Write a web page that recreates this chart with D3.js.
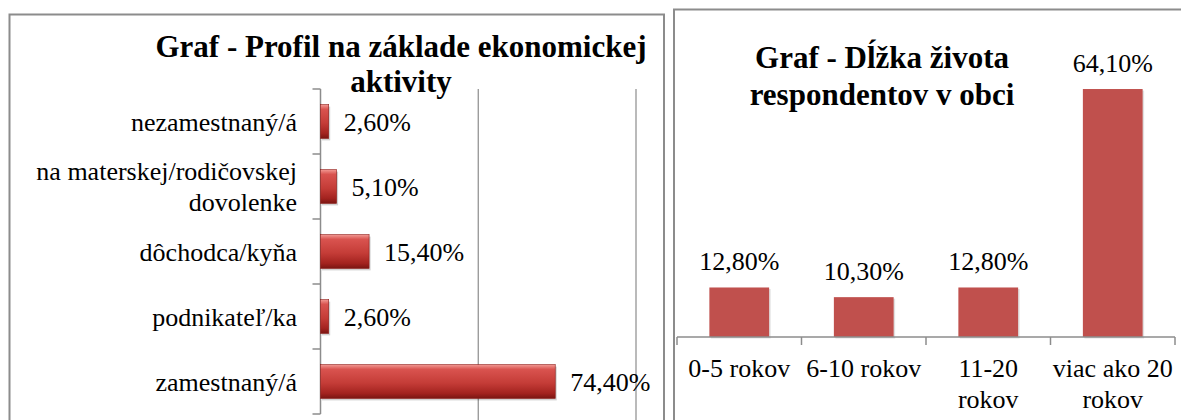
<!DOCTYPE html>
<html>
<head>
<meta charset="UTF-8">
<script src="https://cdnjs.cloudflare.com/ajax/libs/d3/7.8.5/d3.min.js"></script>
</head>
<body style="margin:0">
<script>

    // data - left chart (profil na základe ekonomickej aktivity)
    let activityCats = ["nezamestnaný/á", "na materskej/rodičovskej dovolenke", "dôchodca/kyňa", "podnikateľ/ka", "zamestnaný/á"];
    let activityVals = [2.6, 5.1, 15.4, 2.6, 74.4];
    let activityTitle = ["Graf - Profil na základe ekonomickej", "aktivity"];

    // data - right chart (dĺžka života v obci)
    let livingCats = ["0-5 rokov", "6-10 rokov", "11-20 rokov", "viac ako 20 rokov"];
    let livingVals = [12.8, 10.3, 12.8, 64.1];
    let livingTitle = ["Graf - Dĺžka života", "respondentov v obci"];

    let fmt = function(v) { return v.toFixed(2).replace(".", ",") + "%"; };
    let grey = "#8c8c8c";
    let serif = "'Liberation Serif', 'Times New Roman', serif";

    let svg = d3.select("body").append("svg")
        .attr("width", 1181)
        .attr("height", 420);

    let defs = svg.append("defs");

    // bevel-ish gradient for the left bars
    let grad = defs.append("linearGradient")
        .attr("id", "bevel").attr("x1", 0).attr("y1", 0).attr("x2", 0).attr("y2", 1);
    grad.append("stop").attr("offset", "0%").attr("stop-color", "#f29a94");
    grad.append("stop").attr("offset", "14%").attr("stop-color", "#d9534f");
    grad.append("stop").attr("offset", "55%").attr("stop-color", "#c43c37");
    grad.append("stop").attr("offset", "85%").attr("stop-color", "#a3231f");
    grad.append("stop").attr("offset", "100%").attr("stop-color", "#7a1512");

    // split text into lines that fit a width
    function wrap(sel, width, lineHeight) {
        sel.each(function() {
            let text = d3.select(this);
            let words = text.text().split(/\s+/);
            let x = text.attr("x");
            text.text(null);
            let line = [];
            let lines = [];
            let tspan = text.append("tspan").attr("x", x);
            words.forEach(function(w) {
                line.push(w);
                tspan.text(line.join(" "));
                if (tspan.node().getComputedTextLength() > width && line.length > 1) {
                    line.pop();
                    lines.push(line.join(" "));
                    line = [w];
                }
            });
            lines.push(line.join(" "));
            tspan.remove();
            lines.forEach(function(l, i) {
                text.append("tspan").attr("x", x).attr("dy", i == 0 ? 0 : lineHeight).text(l);
            });
            text.attr("data-lines", lines.length);
        });
    }

    // ---------- left chart ----------
    let left = svg.append("g");

    left.append("rect")
        .attr("x", 9.5).attr("y", 14.5)
        .attr("width", 654.5).attr("height", 430)
        .attr("fill", "none").attr("stroke", grey).attr("stroke-width", 2);

    let lx = d3.scaleLinear().domain([0, 100]).range([320.5, 636]);
    let ly = d3.scaleBand().domain(activityCats).range([89, 414])
        .paddingInner(0.48).paddingOuter(0.24);

    // gridlines
    left.selectAll(".grid")
        .data([50, 100])
        .enter().append("line")
        .attr("x1", function(d) { return lx(d); })
        .attr("x2", function(d) { return lx(d); })
        .attr("y1", 89).attr("y2", 420)
        .attr("stroke", grey).attr("stroke-width", 1.2);

    // category axis: line + boundary ticks
    left.append("line")
        .attr("x1", lx(0)).attr("x2", lx(0))
        .attr("y1", ly.range()[0]).attr("y2", ly.range()[1])
        .attr("stroke", grey).attr("stroke-width", 1.5);
    left.selectAll(".tick")
        .data(d3.range(activityCats.length + 1))
        .enter().append("line")
        .attr("x1", lx(0) - 8).attr("x2", lx(0))
        .attr("y1", function(i) { return ly.range()[0] + i * ly.step(); })
        .attr("y2", function(i) { return ly.range()[0] + i * ly.step(); })
        .attr("stroke", grey).attr("stroke-width", 1.5);

    // soft shadow under the bars, then the bars
    left.selectAll(".shade")
        .data(activityCats)
        .enter().append("rect")
        .attr("x", lx(0) + 1.5)
        .attr("y", function(d) { return ly(d) + 2; })
        .attr("width", function(d, i) { return lx(activityVals[i]) - lx(0); })
        .attr("height", ly.bandwidth())
        .attr("fill", "#000").attr("opacity", 0.18);
    left.selectAll(".bar")
        .data(activityCats)
        .enter().append("rect")
        .attr("x", lx(0))
        .attr("y", function(d) { return ly(d); })
        .attr("width", function(d, i) { return lx(activityVals[i]) - lx(0); })
        .attr("height", ly.bandwidth())
        .attr("fill", "url(#bevel)")
        .attr("stroke", "#8e1c18").attr("stroke-width", 0.6);

    // value labels
    left.selectAll(".val")
        .data(activityCats)
        .enter().append("text")
        .attr("x", function(d, i) { return lx(activityVals[i]) + 15; })
        .attr("y", function(d) { return ly(d) + ly.bandwidth() / 2 + 9; })
        .attr("font-family", serif)
        .attr("font-size", 26)
        .text(function(d, i) { return fmt(activityVals[i]); });

    // category labels
    let catLabels = left.selectAll(".cat")
        .data(activityCats)
        .enter().append("text")
        .attr("x", 297)
        .attr("y", function(d) { return ly(d) + ly.bandwidth() / 2 + 9; })
        .attr("font-family", serif)
        .attr("font-size", 26)
        .attr("text-anchor", "end")
        .text(function(d) { return d; });
    wrap(catLabels, 285, 31);
    catLabels.each(function() {
        let n = +d3.select(this).attr("data-lines");
        if (n > 1) d3.select(this).attr("transform", "translate(0," + (-(n - 1) * 31 / 2) + ")");
    });

    // title
    left.selectAll(".title")
        .data(activityTitle)
        .enter().append("text")
        .attr("x", 401)
        .attr("y", function(d, i) { return 57 + i * 35; })
        .attr("font-family", serif)
        .attr("font-size", 31)
        .attr("font-weight", "bold")
        .attr("text-anchor", "middle")
        .text(function(d) { return d; });

    // ---------- right chart ----------
    let right = svg.append("g");

    right.append("rect")
        .attr("x", 674).attr("y", 9.5)
        .attr("width", 530).attr("height", 430)
        .attr("fill", "none").attr("stroke", grey).attr("stroke-width", 2);

    let rx = d3.scaleBand().domain(livingCats).range([677, 1175])
        .paddingInner(0.52).paddingOuter(0.26);
    let ry = d3.scaleLinear().domain([0, 70]).range([337, 66.2]);

    right.selectAll(".shade")
        .data(livingCats)
        .enter().append("rect")
        .attr("x", function(d) { return rx(d) + 1.5; })
        .attr("y", function(d, i) { return ry(livingVals[i]) + 1.5; })
        .attr("width", rx.bandwidth())
        .attr("height", function(d, i) { return ry(0) - ry(livingVals[i]); })
        .attr("fill", "#000").attr("opacity", 0.12);
    right.selectAll(".bar")
        .data(livingCats)
        .enter().append("rect")
        .attr("x", function(d) { return rx(d); })
        .attr("y", function(d, i) { return ry(livingVals[i]); })
        .attr("width", rx.bandwidth())
        .attr("height", function(d, i) { return ry(0) - ry(livingVals[i]); })
        .attr("fill", "#c0504d");

    // axis line and boundary ticks
    right.append("line")
        .attr("x1", rx.range()[0]).attr("x2", rx.range()[1])
        .attr("y1", ry(0)).attr("y2", ry(0))
        .attr("stroke", grey).attr("stroke-width", 1.5);
    right.selectAll(".tick")
        .data(d3.range(livingCats.length + 1))
        .enter().append("line")
        .attr("x1", function(i) { return rx.range()[0] + i * rx.step(); })
        .attr("x2", function(i) { return rx.range()[0] + i * rx.step(); })
        .attr("y1", ry(0)).attr("y2", ry(0) + 8)
        .attr("stroke", grey).attr("stroke-width", 1.5);

    right.selectAll(".val")
        .data(livingCats)
        .enter().append("text")
        .attr("x", function(d) { return rx(d) + rx.bandwidth() / 2; })
        .attr("y", function(d, i) { return ry(livingVals[i]) - 17; })
        .attr("font-family", serif)
        .attr("font-size", 26)
        .attr("text-anchor", "middle")
        .text(function(d, i) { return fmt(livingVals[i]); });

    let xLabels = right.selectAll(".cat")
        .data(livingCats)
        .enter().append("text")
        .attr("x", function(d) { return rx(d) + rx.bandwidth() / 2; })
        .attr("y", 377)
        .attr("font-family", serif)
        .attr("font-size", 26)
        .attr("text-anchor", "middle")
        .text(function(d) { return d; });
    wrap(xLabels, 122, 31);

    right.selectAll(".title")
        .data(livingTitle)
        .enter().append("text")
        .attr("x", 882)
        .attr("y", function(d, i) { return 68 + i * 37; })
        .attr("font-family", serif)
        .attr("font-size", 31)
        .attr("font-weight", "bold")
        .attr("text-anchor", "middle")
        .text(function(d) { return d; });

</script>
</body>
</html>
